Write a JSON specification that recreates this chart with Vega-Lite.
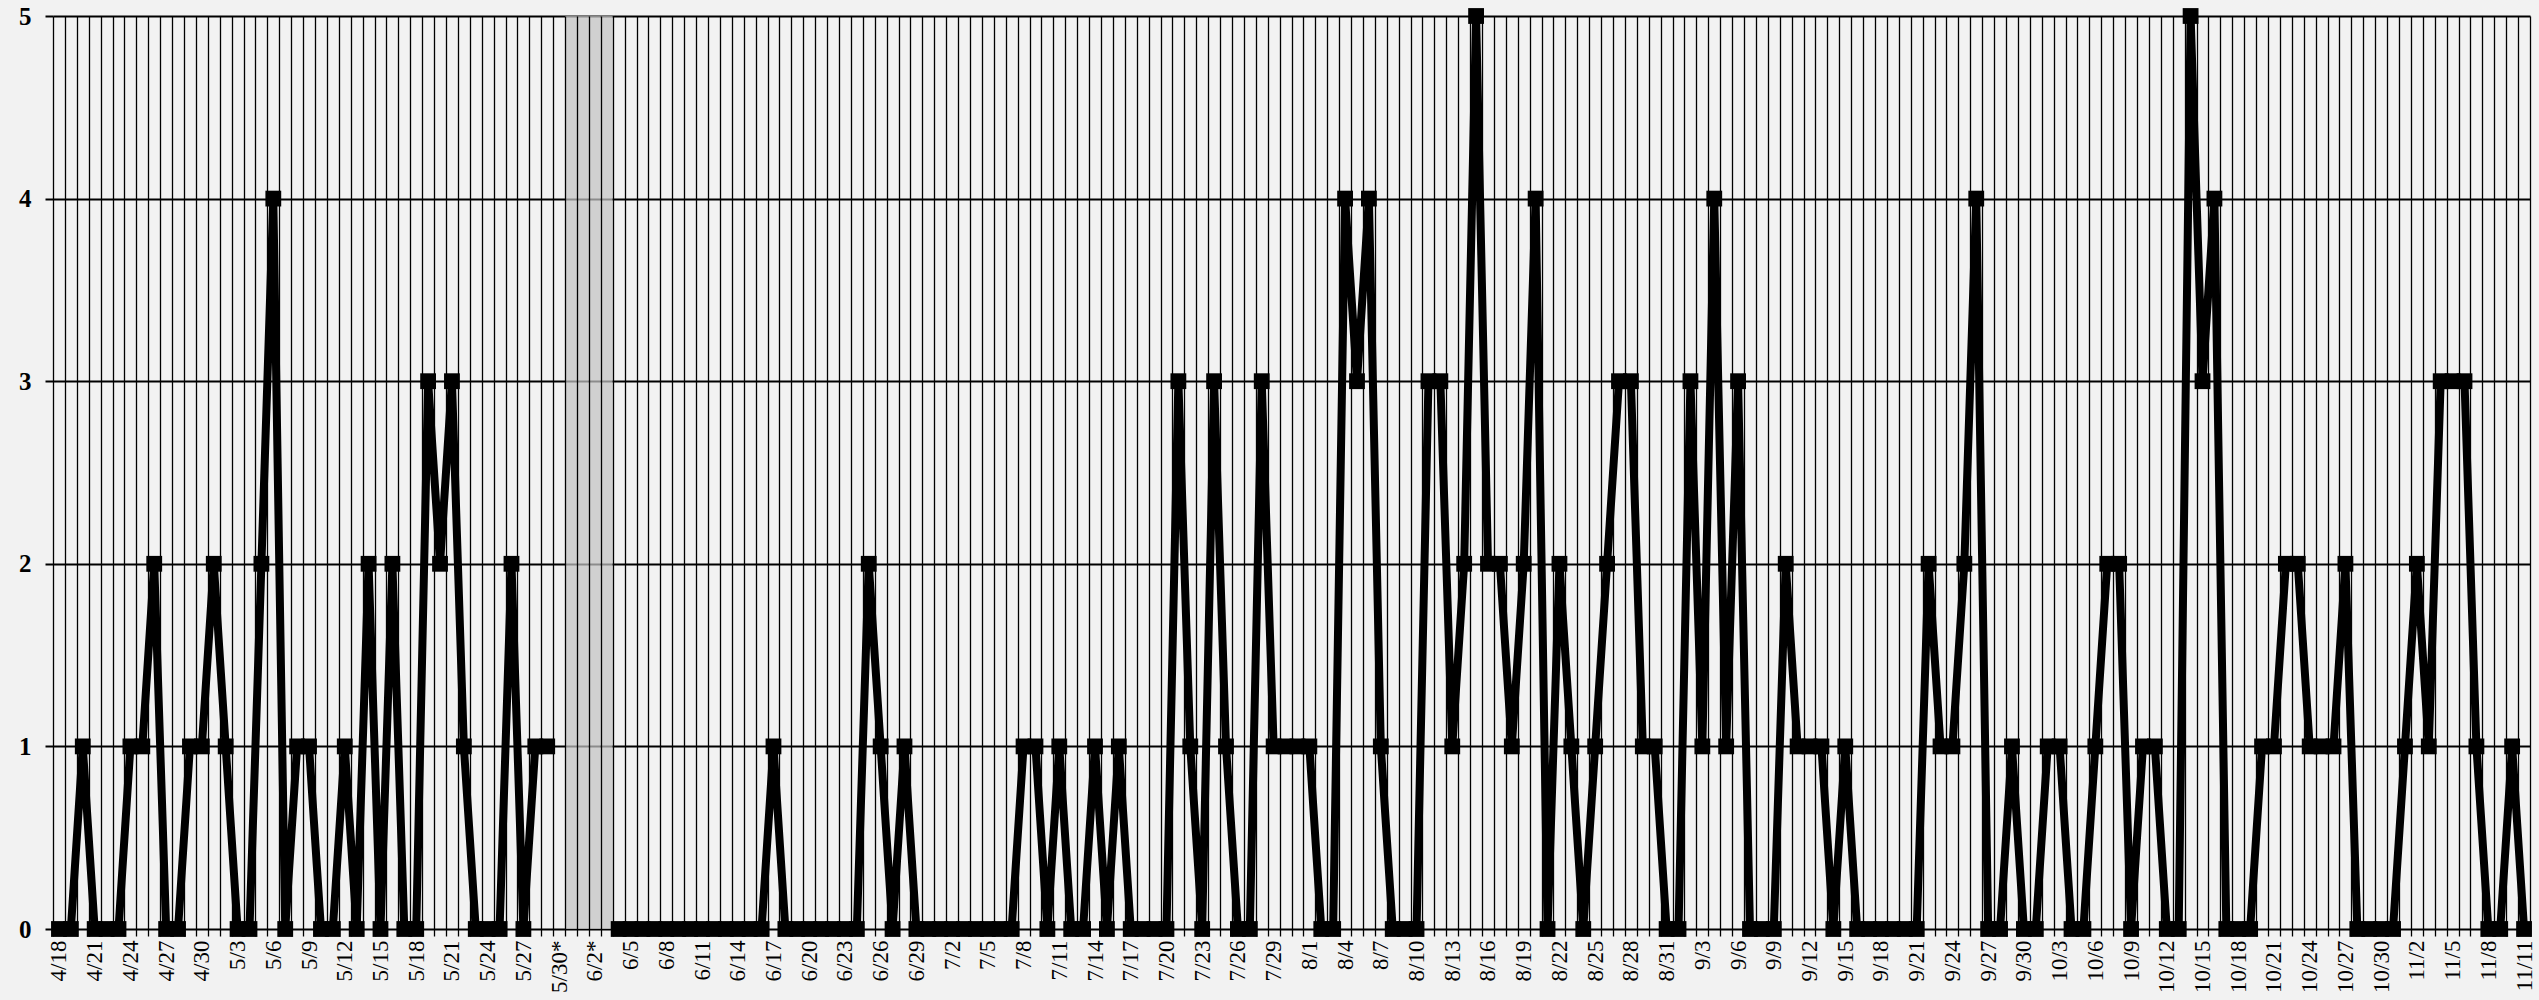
{
  "$schema": "https://vega.github.io/schema/vega-lite/v6.json",
  "width": 2477,
  "height": 913,
  "autosize": {"type": "none"},
  "padding": {"left": 53, "top": 16, "right": 9, "bottom": 71},
  "background": "#f2f2f2",
  "config": {
    "view": {"stroke": null},
    "axisX": {
      "tickBand": "extent",
      "grid": true, "gridColor": "#000000", "gridWidth": 1.3, "gridOpacity": 1,
      "ticks": true, "tickColor": "#000000", "tickSize": 7, "tickWidth": 1.3,
      "domain": false,
      "labelAngle": -90, "labelFont": "Liberation Serif", "labelFontSize": 23,
      "labelColor": "#000000", "labelPadding": 4, "labelOverlap": false, "labelBound": false, "labelFlush": false
    },
    "axisY": {
      "grid": true, "gridColor": "#000000", "gridWidth": 2, "gridOpacity": 1,
      "ticks": true, "tickColor": "#000000", "tickSize": 8, "tickWidth": 2,
      "domain": false,
      "labelFont": "Liberation Serif", "labelFontWeight": "bold", "labelFontSize": 25,
      "labelColor": "#000000", "labelPadding": 14
    }
  },
  "data": {"values": [
    {"d":"4/18","v":0,"s":1},{"d":"4/19","v":0,"s":1},{"d":"4/20","v":1,"s":1},{"d":"4/21","v":0,"s":1},{"d":"4/22","v":0,"s":1},{"d":"4/23","v":0,"s":1},{"d":"4/24","v":1,"s":1},{"d":"4/25","v":1,"s":1},{"d":"4/26","v":2,"s":1},{"d":"4/27","v":0,"s":1},{"d":"4/28","v":0,"s":1},{"d":"4/29","v":1,"s":1},{"d":"4/30","v":1,"s":1},
    {"d":"5/1","v":2,"s":1},{"d":"5/2","v":1,"s":1},{"d":"5/3","v":0,"s":1},{"d":"5/4","v":0,"s":1},{"d":"5/5","v":2,"s":1},{"d":"5/6","v":4,"s":1},{"d":"5/7","v":0,"s":1},{"d":"5/8","v":1,"s":1},{"d":"5/9","v":1,"s":1},{"d":"5/10","v":0,"s":1},{"d":"5/11","v":0,"s":1},{"d":"5/12","v":1,"s":1},{"d":"5/13","v":0,"s":1},{"d":"5/14","v":2,"s":1},{"d":"5/15","v":0,"s":1},{"d":"5/16","v":2,"s":1},{"d":"5/17","v":0,"s":1},{"d":"5/18","v":0,"s":1},{"d":"5/19","v":3,"s":1},{"d":"5/20","v":2,"s":1},{"d":"5/21","v":3,"s":1},{"d":"5/22","v":1,"s":1},{"d":"5/23","v":0,"s":1},{"d":"5/24","v":0,"s":1},{"d":"5/25","v":0,"s":1},{"d":"5/26","v":2,"s":1},{"d":"5/27","v":0,"s":1},{"d":"5/28","v":1,"s":1},{"d":"5/29","v":1,"s":1},{"d":"5/30","v":null,"s":1},{"d":"5/31","v":null,"s":1,"gap":true},
    {"d":"6/1","v":null,"s":1,"gap":true},{"d":"6/2","v":null,"s":1,"gap":true},{"d":"6/3","v":null,"s":1,"gap":true},{"d":"6/4","v":0,"s":2},{"d":"6/5","v":0,"s":2},{"d":"6/6","v":0,"s":2},{"d":"6/7","v":0,"s":2},{"d":"6/8","v":0,"s":2},{"d":"6/9","v":0,"s":2},{"d":"6/10","v":0,"s":2},{"d":"6/11","v":0,"s":2},{"d":"6/12","v":0,"s":2},{"d":"6/13","v":0,"s":2},{"d":"6/14","v":0,"s":2},{"d":"6/15","v":0,"s":2},{"d":"6/16","v":0,"s":2},{"d":"6/17","v":1,"s":2},{"d":"6/18","v":0,"s":2},{"d":"6/19","v":0,"s":2},{"d":"6/20","v":0,"s":2},{"d":"6/21","v":0,"s":2},{"d":"6/22","v":0,"s":2},{"d":"6/23","v":0,"s":2},{"d":"6/24","v":0,"s":2},{"d":"6/25","v":2,"s":2},{"d":"6/26","v":1,"s":2},{"d":"6/27","v":0,"s":2},{"d":"6/28","v":1,"s":2},{"d":"6/29","v":0,"s":2},{"d":"6/30","v":0,"s":2},
    {"d":"7/1","v":0,"s":2},{"d":"7/2","v":0,"s":2},{"d":"7/3","v":0,"s":2},{"d":"7/4","v":0,"s":2},{"d":"7/5","v":0,"s":2},{"d":"7/6","v":0,"s":2},{"d":"7/7","v":0,"s":2},{"d":"7/8","v":1,"s":2},{"d":"7/9","v":1,"s":2},{"d":"7/10","v":0,"s":2},{"d":"7/11","v":1,"s":2},{"d":"7/12","v":0,"s":2},{"d":"7/13","v":0,"s":2},{"d":"7/14","v":1,"s":2},{"d":"7/15","v":0,"s":2},{"d":"7/16","v":1,"s":2},{"d":"7/17","v":0,"s":2},{"d":"7/18","v":0,"s":2},{"d":"7/19","v":0,"s":2},{"d":"7/20","v":0,"s":2},{"d":"7/21","v":3,"s":2},{"d":"7/22","v":1,"s":2},{"d":"7/23","v":0,"s":2},{"d":"7/24","v":3,"s":2},{"d":"7/25","v":1,"s":2},{"d":"7/26","v":0,"s":2},{"d":"7/27","v":0,"s":2},{"d":"7/28","v":3,"s":2},{"d":"7/29","v":1,"s":2},{"d":"7/30","v":1,"s":2},{"d":"7/31","v":1,"s":2},
    {"d":"8/1","v":1,"s":2},{"d":"8/2","v":0,"s":2},{"d":"8/3","v":0,"s":2},{"d":"8/4","v":4,"s":2},{"d":"8/5","v":3,"s":2},{"d":"8/6","v":4,"s":2},{"d":"8/7","v":1,"s":2},{"d":"8/8","v":0,"s":2},{"d":"8/9","v":0,"s":2},{"d":"8/10","v":0,"s":2},{"d":"8/11","v":3,"s":2},{"d":"8/12","v":3,"s":2},{"d":"8/13","v":1,"s":2},{"d":"8/14","v":2,"s":2},{"d":"8/15","v":5,"s":2},{"d":"8/16","v":2,"s":2},{"d":"8/17","v":2,"s":2},{"d":"8/18","v":1,"s":2},{"d":"8/19","v":2,"s":2},{"d":"8/20","v":4,"s":2},{"d":"8/21","v":0,"s":2},{"d":"8/22","v":2,"s":2},{"d":"8/23","v":1,"s":2},{"d":"8/24","v":0,"s":2},{"d":"8/25","v":1,"s":2},{"d":"8/26","v":2,"s":2},{"d":"8/27","v":3,"s":2},{"d":"8/28","v":3,"s":2},{"d":"8/29","v":1,"s":2},{"d":"8/30","v":1,"s":2},{"d":"8/31","v":0,"s":2},
    {"d":"9/1","v":0,"s":2},{"d":"9/2","v":3,"s":2},{"d":"9/3","v":1,"s":2},{"d":"9/4","v":4,"s":2},{"d":"9/5","v":1,"s":2},{"d":"9/6","v":3,"s":2},{"d":"9/7","v":0,"s":2},{"d":"9/8","v":0,"s":2},{"d":"9/9","v":0,"s":2},{"d":"9/10","v":2,"s":2},{"d":"9/11","v":1,"s":2},{"d":"9/12","v":1,"s":2},{"d":"9/13","v":1,"s":2},{"d":"9/14","v":0,"s":2},{"d":"9/15","v":1,"s":2},{"d":"9/16","v":0,"s":2},{"d":"9/17","v":0,"s":2},{"d":"9/18","v":0,"s":2},{"d":"9/19","v":0,"s":2},{"d":"9/20","v":0,"s":2},{"d":"9/21","v":0,"s":2},{"d":"9/22","v":2,"s":2},{"d":"9/23","v":1,"s":2},{"d":"9/24","v":1,"s":2},{"d":"9/25","v":2,"s":2},{"d":"9/26","v":4,"s":2},{"d":"9/27","v":0,"s":2},{"d":"9/28","v":0,"s":2},{"d":"9/29","v":1,"s":2},{"d":"9/30","v":0,"s":2},
    {"d":"10/1","v":0,"s":2},{"d":"10/2","v":1,"s":2},{"d":"10/3","v":1,"s":2},{"d":"10/4","v":0,"s":2},{"d":"10/5","v":0,"s":2},{"d":"10/6","v":1,"s":2},{"d":"10/7","v":2,"s":2},{"d":"10/8","v":2,"s":2},{"d":"10/9","v":0,"s":2},{"d":"10/10","v":1,"s":2},{"d":"10/11","v":1,"s":2},{"d":"10/12","v":0,"s":2},{"d":"10/13","v":0,"s":2},{"d":"10/14","v":5,"s":2},{"d":"10/15","v":3,"s":2},{"d":"10/16","v":4,"s":2},{"d":"10/17","v":0,"s":2},{"d":"10/18","v":0,"s":2},{"d":"10/19","v":0,"s":2},{"d":"10/20","v":1,"s":2},{"d":"10/21","v":1,"s":2},{"d":"10/22","v":2,"s":2},{"d":"10/23","v":2,"s":2},{"d":"10/24","v":1,"s":2},{"d":"10/25","v":1,"s":2},{"d":"10/26","v":1,"s":2},{"d":"10/27","v":2,"s":2},{"d":"10/28","v":0,"s":2},{"d":"10/29","v":0,"s":2},{"d":"10/30","v":0,"s":2},{"d":"10/31","v":0,"s":2},
    {"d":"11/1","v":1,"s":2},{"d":"11/2","v":2,"s":2},{"d":"11/3","v":1,"s":2},{"d":"11/4","v":3,"s":2},{"d":"11/5","v":3,"s":2},{"d":"11/6","v":3,"s":2},{"d":"11/7","v":1,"s":2},{"d":"11/8","v":0,"s":2},{"d":"11/9","v":0,"s":2},{"d":"11/10","v":1,"s":2},{"d":"11/11","v":0,"s":2}
  ]},
  "encoding": {
    "x": {
      "field": "d", "type": "ordinal", "sort": null, "title": null,
      "scale": {"type": "band", "paddingInner": 0, "paddingOuter": 0},
      "axis": {
        "labelExpr": "indexof(['4/18','4/21','4/24','4/27','4/30','5/3','5/6','5/9','5/12','5/15','5/18','5/21','5/24','5/27','5/30','6/2','6/5','6/8','6/11','6/14','6/17','6/20','6/23','6/26','6/29','7/2','7/5','7/8','7/11','7/14','7/17','7/20','7/23','7/26','7/29','8/1','8/4','8/7','8/10','8/13','8/16','8/19','8/22','8/25','8/28','8/31','9/3','9/6','9/9','9/12','9/15','9/18','9/21','9/24','9/27','9/30','10/3','10/6','10/9','10/12','10/15','10/18','10/21','10/24','10/27','10/30','11/2','11/5','11/8','11/11'], datum.value) >= 0 ? ((datum.value == '5/30' || datum.value == '6/2') ? datum.value + '*' : datum.value) : ''"
      }
    }
  },
  "layer": [
    {
      "mark": {"type": "rect", "fill": "#c2c2c2"},
      "encoding": {
        "y": {"datum": 5, "type": "quantitative", "scale": {"domain": [0, 5], "nice": false, "zero": true}, "axis": {"title": null, "tickCount": 5}},
        "y2": {"datum": 0},
        "opacity": {"condition": {"test": "datum.gap === true", "value": 0.72}, "value": 0}
      }
    },
    {
      "mark": {"type": "line", "color": "#000000", "strokeWidth": 8},
      "encoding": {
        "y": {"field": "v", "type": "quantitative", "scale": {"domain": [0, 5], "nice": false}, "axis": {"title": null, "tickCount": 5}},
        "detail": {"field": "s", "type": "nominal"}
      }
    },
    {
      "mark": {"type": "point", "shape": "square", "filled": true, "color": "#000000", "opacity": 1, "size": 250},
      "encoding": {
        "y": {"field": "v", "type": "quantitative", "scale": {"domain": [0, 5], "nice": false}, "axis": {"title": null, "tickCount": 5}}
      }
    }
  ]
}
